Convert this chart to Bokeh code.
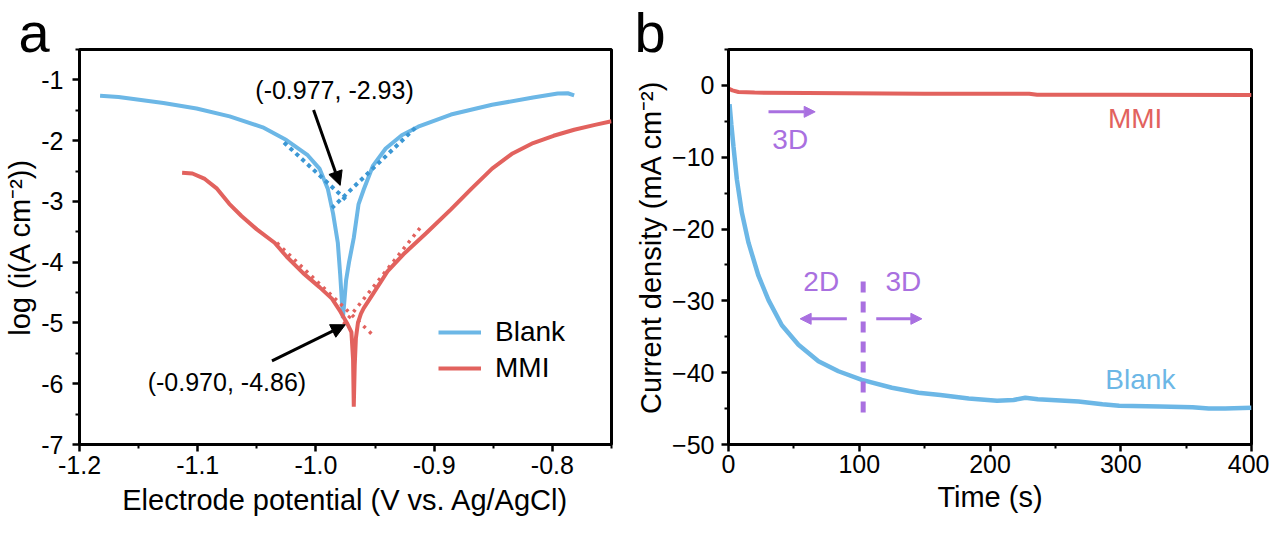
import numpy as np
from bokeh.plotting import figure
from bokeh.layouts import row
from bokeh.models import (FixedTicker, PrintfTickFormatter, Label, Arrow, NormalHead,
                          Legend, LegendItem, Range1d)
from bokeh.embed import file_html
from bokeh.resources import INLINE

FONT = "Liberation Sans"
BLUE = "#6cb7e6"
BLUE_FIT = "#3b97d4"
RED = "#e2625e"
PURPLE = "#a970e0"

# ---------------- (a) Tafel polarization curves ----------------
blank_E = [-1.1826, -1.167, -1.129, -1.101, -1.073, -1.045, -1.025, -1.007, -0.997,
           -0.990, -0.9855, -0.9815, -0.9795, -0.9782, -0.9772, -0.9762, -0.9745,
           -0.972, -0.968, -0.964, -0.9595, -0.9517, -0.941, -0.9274, -0.9135,
           -0.8858, -0.851, -0.8163, -0.7955, -0.787, -0.7816]
blank_logi = [-1.26, -1.28, -1.38, -1.47, -1.60, -1.78, -1.99, -2.24, -2.46,
              -2.79, -3.20, -3.68, -4.20, -4.60, -4.92, -4.70, -4.30,
              -4.00, -3.60, -3.05, -2.80, -2.41, -2.13, -1.91, -1.77,
              -1.57, -1.41, -1.29, -1.225, -1.22, -1.255]

mmi_E = [-1.1132, -1.1045, -1.094, -1.0837, -1.0733, -1.063, -1.050, -1.035, -1.0247,
         -1.0108, -0.997, -0.9865, -0.9794, -0.9738, -0.9700, -0.9686, -0.9680,
         -0.9672, -0.9662, -0.9645, -0.9620, -0.9597, -0.9550, -0.9460, -0.9395,
         -0.9260, -0.9066, -0.8858, -0.8684, -0.8510, -0.8337, -0.8163, -0.7990,
         -0.7816, -0.7640, -0.7500]
mmi_logi = [-2.53, -2.54, -2.63, -2.79, -3.04, -3.24, -3.46, -3.68, -3.91,
            -4.18, -4.41, -4.60, -4.81, -5.00, -5.15, -5.60, -6.38,
            -5.70, -5.25, -5.00, -4.85, -4.76, -4.62, -4.35, -4.15,
            -3.87, -3.52, -3.13, -2.79, -2.46, -2.21, -2.04, -1.92,
            -1.82, -1.74, -1.68]

# corrosion potential / log corrosion current and Tafel fits (Blank, MMI)
corr_E = [-0.977, -0.970]
corr_logi = [-2.93, -4.86]
cathodic_slope = [-18.0, -18.7]
anodic_slope = [18.7, 24.5]
cathodic_span = [(-1.027, -0.9738), (-1.033, -0.952)]
anodic_span = [(-0.916, -0.9865), (-0.912, -0.984)]

# ---------------- (b) chronoamperometry ----------------
t_blank = [0.8, 2.2, 3.8, 6.4, 10.2, 15.3, 22.9, 30.6, 40.8, 53.5, 68.8, 84.1, 102,
           125, 145.3, 162, 183.7, 205.4, 218, 227, 236.6, 267.7, 286, 298.8,
           329.9, 354.9, 367.3, 379.8, 400]
j_blank = [-2.6, -5.5, -8.5, -13.1, -17.7, -21.9, -26.5, -29.9, -33.4, -36.1, -38.4,
           -39.8, -41.0, -42.1, -42.8, -43.1, -43.6, -43.9, -43.8, -43.5, -43.7,
           -44.0, -44.4, -44.6, -44.7, -44.8, -45.0, -45.0, -44.9]

t_mmi = [0, 3, 7.6, 20, 60, 150, 230, 236, 300, 400]
j_mmi = [-0.45, -0.7, -0.92, -1.0, -1.05, -1.15, -1.15, -1.3, -1.3, -1.35]

boundary_t = 103
boundary_j = [-27.3, -46.7]


def style(p):
    p.outline_line_color = "black"
    p.outline_line_width = 3
    p.outline_line_alpha = 1.0
    p.grid.visible = False
    for ax in p.axis:
        ax.axis_line_color = "black"
        ax.major_tick_line_color = "black"
        ax.minor_tick_line_color = "black"
        ax.axis_line_width = 3
        ax.major_tick_line_width = 2.5
        ax.minor_tick_line_width = 2
        ax.major_tick_out = 7
        ax.major_tick_in = 0
        ax.minor_tick_out = 4
        ax.minor_tick_in = 0
        ax.major_label_text_font = FONT
        ax.major_label_text_font_size = "25px"
        ax.major_label_text_color = "black"
        ax.axis_label_text_font = FONT
        ax.axis_label_text_font_size = "29px"
        ax.axis_label_text_font_style = "normal"
        ax.axis_label_text_color = "black"


def panel_letter(p, letter, offset):
    t = p.title
    t.text = letter
    t.align = "left"
    t.offset = offset
    t.standoff = -28
    t.vertical_align = "bottom"
    t.text_font = FONT
    t.text_font_size = "56px"
    t.text_font_style = "normal"
    t.text_color = "black"


# ---------- panel a ----------
p1 = figure(width=632, height=537, x_range=Range1d(-1.2, -0.75), y_range=Range1d(-7, -0.5),
            output_backend="svg", toolbar_location=None,
            min_border_left=79, min_border_right=21, min_border_top=49, min_border_bottom=85)
style(p1)
panel_letter(p1, "a", -61)
p1.xaxis.ticker = FixedTicker(ticks=[-1.2, -1.1, -1.0, -0.9, -0.8],
                              minor_ticks=[-1.15, -1.05, -0.95, -0.85, -0.75])
p1.xaxis.formatter = PrintfTickFormatter(format="%.1f")
p1.yaxis.ticker = FixedTicker(ticks=list(range(-7, 0)),
                              minor_ticks=[v + 0.5 for v in range(-7, 0)])
p1.yaxis.formatter = PrintfTickFormatter(format="%d")
p1.xaxis.axis_label = "Electrode potential (V vs. Ag/AgCl)"
p1.yaxis.axis_label = "log (i(A cm\u207b\u00b2))"
p1.yaxis.major_label_standoff = 9
p1.yaxis.axis_label_standoff = 2
p1.xaxis.major_label_standoff = 4
p1.xaxis.axis_label_standoff = 7

r_blank = p1.line(blank_E, blank_logi, line_color=BLUE, line_width=4)
r_mmi = p1.line(mmi_E, mmi_logi, line_color=RED, line_width=4)

fit_colors = [BLUE_FIT, RED]
fit_widths = [4, 3.5]
fit_dashes = ["4 4", "3 5"]
for i in range(2):
    for slope, span in ((cathodic_slope[i], cathodic_span[i]), (anodic_slope[i], anodic_span[i])):
        xs = np.array(span)
        ys = corr_logi[i] + slope * (xs - corr_E[i])
        p1.line(xs, ys, line_color=fit_colors[i], line_width=fit_widths[i],
                line_dash=fit_dashes[i], line_cap="butt")

# corrosion point annotations
p1.add_layout(Label(x=-0.9843, y=-1.173, text=f"({corr_E[0]:.3f}, {corr_logi[0]:.2f})",
                    text_font=FONT, text_font_size="25px", text_align="center",
                    text_baseline="middle", text_color="black"))
p1.add_layout(Label(x=-1.0753, y=-5.973, text=f"({corr_E[1]:.3f}, {corr_logi[1]:.2f})",
                    text_font=FONT, text_font_size="25px", text_align="center",
                    text_baseline="middle", text_color="black"))
p1.add_layout(Arrow(end=NormalHead(size=14, fill_color="black", line_color="black"),
                    x_start=-1.002, y_start=-1.497, x_end=-0.9795, y_end=-2.736,
                    line_color="black", line_width=3))
p1.add_layout(Arrow(end=NormalHead(size=14, fill_color="black", line_color="black"),
                    x_start=-1.0372, y_start=-5.623, x_end=-0.9752, y_end=-5.03,
                    line_color="black", line_width=3))

legend = Legend(items=[LegendItem(label="Blank", renderers=[r_blank]),
                       LegendItem(label="MMI", renderers=[r_mmi])],
                location=(359, 60), border_line_color=None, background_fill_alpha=0,
                padding=0, margin=0, spacing=4, glyph_width=43, glyph_height=30,
                label_height=30, label_standoff=14, label_text_font=FONT,
                label_text_font_size="28px", label_text_color="black")
p1.add_layout(legend)

# ---------- panel b ----------
p2 = figure(width=637, height=537, x_range=Range1d(0, 400), y_range=Range1d(-50, 5),
            output_backend="svg", toolbar_location=None,
            min_border_left=96, min_border_right=18, min_border_top=46, min_border_bottom=93)
style(p2)
panel_letter(p2, "b", -94)
p2.xaxis.ticker = FixedTicker(ticks=[0, 100, 200, 300, 400], minor_ticks=[50, 150, 250, 350])
p2.yaxis.ticker = FixedTicker(ticks=list(range(-50, 1, 10)), minor_ticks=list(range(-45, 6, 10)))
p2.xaxis.axis_label = "Time (s)"
p2.yaxis.axis_label = "Current density (mA cm\u207b\u00b2)"
p2.yaxis.major_label_standoff = 7
p2.yaxis.axis_label_standoff = 2
p2.xaxis.major_label_standoff = 3
p2.xaxis.axis_label_standoff = 5

p2.line(t_mmi, j_mmi, line_color=RED, line_width=4)
p2.line(t_blank, j_blank, line_color=BLUE, line_width=4.5)
p2.line([boundary_t, boundary_t], boundary_j, line_color=PURPLE, line_width=5,
        line_dash="11 9", line_cap="butt")

for xs, xe, yy in ((30.6, 66.3, -3.68), (90.5, 54.8, -32.5), (113.0, 147.9, -32.5)):
    p2.add_layout(Arrow(end=NormalHead(size=11, fill_color=PURPLE, line_color=PURPLE),
                        x_start=xs, y_start=yy, x_end=xe, y_end=yy,
                        line_color=PURPLE, line_width=3))

for tx, ty, txt, col in ((47.2, -7.5, "3D", PURPLE), (70.9, -27.3, "2D", PURPLE),
                         (133.8, -27.3, "3D", PURPLE), (311.0, -4.64, "MMI", RED),
                         (315.0, -40.9, "Blank", BLUE)):
    p2.add_layout(Label(x=tx, y=ty, text=txt, text_color=col, text_font=FONT,
                        text_font_size="28px", text_align="center", text_baseline="middle"))

layout = row(p1, p2)
open("out.html", "w").write(file_html(layout, INLINE))
